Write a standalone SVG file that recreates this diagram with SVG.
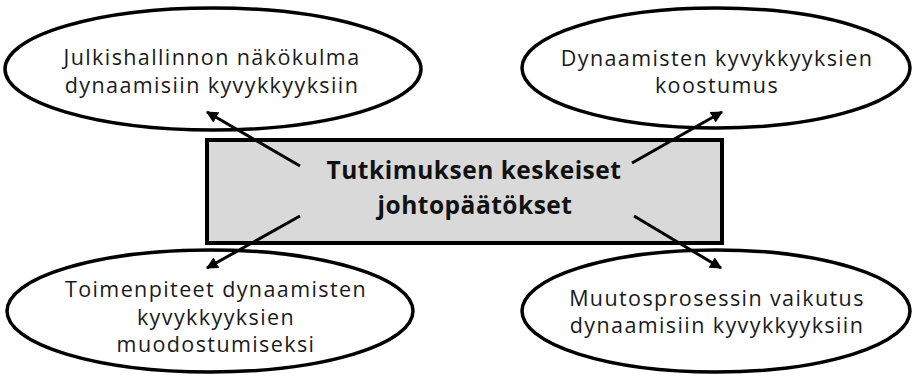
<svg xmlns="http://www.w3.org/2000/svg" width="914" height="376" viewBox="0 0 914 376">
  <style>
    .oval { fill: #ffffff; stroke: #000000; stroke-width: 3.5; }
    .box { fill: #d9d9d9; stroke: #000000; stroke-width: 4; }
    .lbl { font-family: "Open Sans", "Noto Sans", sans-serif; font-size: 21.5px; letter-spacing: 1.4px; fill: #1a1a1a; text-anchor: middle; }
    .title { font-family: "Open Sans", "Noto Sans", sans-serif; font-size: 24.5px; letter-spacing: 0.5px; font-weight: bold; fill: #111111; text-anchor: middle; }
    .link { stroke: #000000; stroke-width: 3; fill: none; marker-end: url(#tip); }
  </style>
  <defs>
    <marker id="tip" viewBox="0 0 10 10" refX="9" refY="5" markerWidth="4" markerHeight="4" orient="auto" markerUnits="strokeWidth">
      <path d="M0,0 L10,5 L0,10 z" fill="#000000"/>
    </marker>
  </defs>

  <g id="node-julkishallinto">
    <ellipse class="oval" cx="213" cy="69" rx="208" ry="61"/>
    <text class="lbl" x="212" y="65">Julkishallinnon näkökulma</text>
    <text class="lbl" x="212" y="93">dynaamisiin kyvykkyyksiin</text>
  </g>

  <g id="node-koostumus">
    <ellipse class="oval" cx="716" cy="68" rx="194" ry="60"/>
    <text class="lbl" x="717" y="66">Dynaamisten kyvykkyyksien</text>
    <text class="lbl" x="717" y="93">koostumus</text>
  </g>

  <g id="node-toimenpiteet">
    <ellipse class="oval" cx="210" cy="311" rx="203" ry="61"/>
    <text class="lbl" x="216" y="297">Toimenpiteet dynaamisten</text>
    <text class="lbl" x="216" y="325">kyvykkyyksien</text>
    <text class="lbl" x="216" y="352">muodostumiseksi</text>
  </g>

  <g id="node-muutosprosessi">
    <ellipse class="oval" cx="716" cy="311" rx="194" ry="61"/>
    <text class="lbl" x="717" y="306">Muutosprosessin vaikutus</text>
    <text class="lbl" x="717" y="333">dynaamisiin kyvykkyyksiin</text>
  </g>

  <g id="node-johtopaatokset">
    <rect class="box" x="207" y="140" width="515" height="103"/>
    <text class="title" x="474" y="179">Tutkimuksen keskeiset</text>
    <text class="title" x="475" y="214">johtopäätökset</text>
  </g>

  <g id="connectors">
    <line class="link" x1="300" y1="166" x2="207" y2="112"/>
    <line class="link" x1="632" y1="163" x2="722" y2="112"/>
    <line class="link" x1="300" y1="216" x2="207" y2="268"/>
    <line class="link" x1="634" y1="216" x2="721" y2="268"/>
  </g>
</svg>
